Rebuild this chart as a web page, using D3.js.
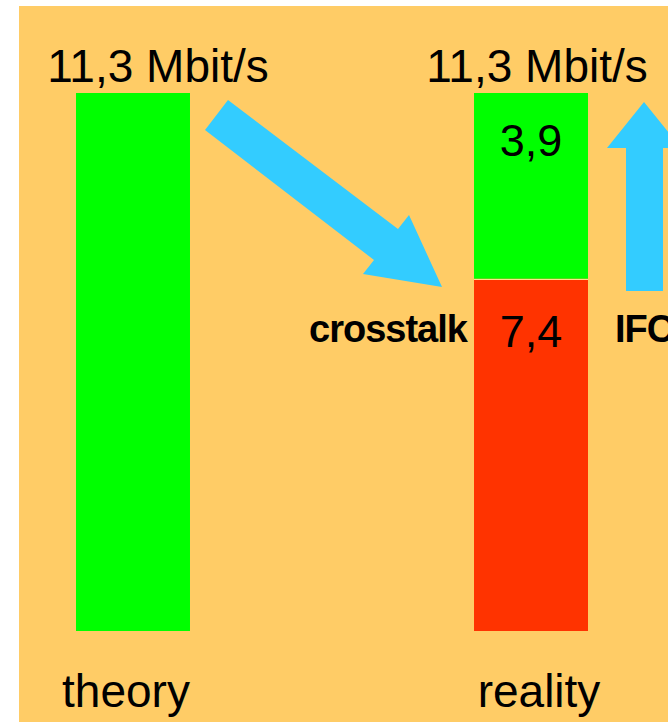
<!DOCTYPE html>
<html>
<head>
<meta charset="utf-8">
<script src="https://cdn.jsdelivr.net/npm/d3@7"></script>
<style>
  body { margin: 0; background: #fff; overflow: hidden; }
  text { font-family: "Liberation Sans", Arial, sans-serif; fill: #000; }
</style>
</head>
<body>
<script>
// data
const categories = ["theory", "reality"];
const totals = [11.3, 11.3];
const segNames = ["lost", "usable"];
const theorySegs = [0, 11.3];
const realitySegs = [7.4, 3.9];
const segLabels = ["7,4", "3,9"];
const totalLabel = "11,3 Mbit/s";
const annotations = ["crosstalk", "IFC"];

const width = 668;
const height = 722;

const svg = d3.select("body")
    .append("svg")
        .attr("width", width)
        .attr("height", height);

// orange panel
svg.append("rect")
    .attr("x", 19)
    .attr("y", 6)
    .attr("width", width - 19)
    .attr("height", height - 6)
    .attr("fill", "#ffcc66");

const x = d3.scaleBand()
    .domain(categories)
    .range([76, 588])
    .paddingInner(0.7136)
    .paddingOuter(0);

const y = d3.scaleLinear()
    .domain([0, 11.3])
    .range([631, 93]);

const color = d3.scaleOrdinal()
    .domain(segNames)
    .range(["#ff3300", "#00ff00"]);

// stacked segments
const rows = categories.map((c, i) => {
    const s = i === 0 ? theorySegs : realitySegs;
    return {cat: c, lost: s[0], usable: s[1]};
});
const stack = d3.stack().keys(segNames)(rows);

const g = svg.append("g");

stack.forEach(layer => {
    g.selectAll(null)
        .data(layer.filter(d => d[1] > d[0]))
        .enter()
        .append("rect")
            .attr("x", d => x(d.data.cat))
            .attr("y", d => y(d[1]))
            .attr("width", x.bandwidth())
            .attr("height", d => y(d[0]) - y(d[1]))
            .attr("fill", color(layer.key));
});

// thin light seam between red and green on the reality bar
g.append("line")
    .attr("x1", x("reality"))
    .attr("x2", x("reality") + x.bandwidth())
    .attr("y1", Math.round(y(realitySegs[0])) + 0.5)
    .attr("y2", Math.round(y(realitySegs[0])) + 0.5)
    .attr("stroke", "#ffe08a")
    .attr("stroke-width", 1);

// segment value labels on reality bar
const rStack = [
    {v0: 0, v1: realitySegs[0], label: segLabels[0], dy: 68},
    {v0: realitySegs[0], v1: realitySegs[0] + realitySegs[1], label: segLabels[1], dy: 63}
];
g.selectAll(".seg-label")
    .data(rStack)
    .enter()
    .append("text")
        .attr("class", "seg-label")
        .attr("x", x("reality") + x.bandwidth() / 2)
        .attr("y", d => y(d.v1) + d.dy)
        .attr("text-anchor", "middle")
        .attr("font-size", "45px")
        .text(d => d.label);

// total labels above bars
const topShift = {theory: 25, reality: 6};
g.selectAll(".total-label")
    .data(categories)
    .enter()
    .append("text")
        .attr("class", "total-label")
        .attr("x", d => x(d) + x.bandwidth() / 2 + topShift[d])
        .attr("y", (d, i) => y(totals[i]) - 11)
        .attr("text-anchor", "middle")
        .attr("font-size", "46px")
        .text(totalLabel);

// category labels at bottom
const catShift = {theory: -7, reality: 8};
g.selectAll(".cat-label")
    .data(categories)
    .enter()
    .append("text")
        .attr("class", "cat-label")
        .attr("x", d => x(d) + x.bandwidth() / 2 + catShift[d])
        .attr("y", 707)
        .attr("text-anchor", "middle")
        .attr("font-size", "46px")
        .text(d => d);

// arrows
const arrows = [
    [[228, 100], [205, 130], [374, 260], [363, 274], [442, 287], [409, 215], [398, 229]],
    [[644, 102], [607, 148], [626, 148], [626, 291], [663, 291], [663, 148], [681, 148]]
];
svg.selectAll(".arrow")
    .data(arrows)
    .enter()
    .append("path")
        .attr("class", "arrow")
        .attr("d", d => d3.line()(d) + "Z")
        .attr("fill", "#33ccff");

// annotations
svg.append("text")
    .attr("x", 309)
    .attr("y", 342)
    .attr("font-size", "38px")
    .attr("font-weight", "bold")
    .attr("letter-spacing", "-1px")
    .text(annotations[0]);

svg.append("text")
    .attr("x", 615)
    .attr("y", 342)
    .attr("font-size", "38px")
    .attr("font-weight", "bold")
    .attr("letter-spacing", "-1px")
    .text(annotations[1]);
</script>
</body>
</html>
